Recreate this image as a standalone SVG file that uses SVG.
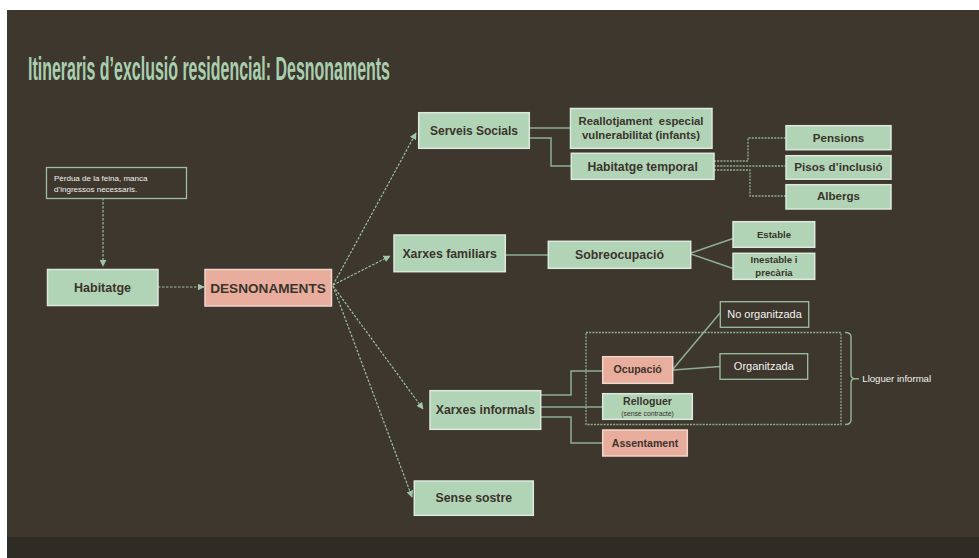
<svg xmlns="http://www.w3.org/2000/svg" width="979" height="558" viewBox="0 0 979 558">
<defs>
<marker id="ah" viewBox="0 0 10 10" refX="9" refY="5" markerWidth="7" markerHeight="7" markerUnits="userSpaceOnUse" orient="auto">
<path d="M0,0 L10,5 L0,10 Z" fill="#a3c6a9"/>
</marker>
<style>
.bg{fill:#3e372e}
.band{fill:#2f2b25}
.title{font-family:"Liberation Sans",Arial,sans-serif;font-size:33px;font-weight:bold;fill:#a9cfae}
.g{fill:#b1d3b6;stroke:#dce9dc;stroke-width:1.5}
.s{fill:#e8ad9c;stroke:#f1d6cc;stroke-width:1.5}
.d{fill:#3e372e;stroke:#9dbf9f;stroke-width:1.3}
.t{font-family:"Liberation Sans",Arial,sans-serif;font-weight:bold;fill:#3b342c;text-anchor:middle}
.w{font-family:"Liberation Sans",Arial,sans-serif;fill:#f2f2ee}
.arr{fill:none;stroke:#9cbfa2;stroke-width:1.2;stroke-dasharray:2.5 1.5;marker-end:url(#ah)}
.ln{fill:none;stroke:#8fae92;stroke-width:1.5}
.dl{fill:none;stroke:#8fae92;stroke-width:1.3;stroke-dasharray:2 1.2}
</style>
</defs>
<rect width="979" height="558" fill="#ffffff"/>
<rect class="bg" x="7" y="10" width="972" height="548"/>
<rect class="band" x="7" y="537" width="972" height="21"/>
<text class="title" x="28" y="80" textLength="362" lengthAdjust="spacingAndGlyphs">Itineraris d’exclusió residencial: Desnonaments</text>

<g id="connectors">
<path class="arr" d="M103,198 V266"/>
<path class="arr" d="M158,287 H204"/>
<path class="arr" d="M333,285 L416,133"/>
<path class="arr" d="M333,285 L390,256"/>
<path class="arr" d="M333,286 L423,409"/>
<path class="arr" d="M333,286 L412,497"/>
<path class="ln" d="M529,128 H570"/>
<path class="ln" d="M529,138 H551 V166 H571"/>
<path class="dl" d="M714,161 H748 V138 H786"/>
<path class="dl" d="M714,166 H786"/>
<path class="dl" d="M714,170 H750 V196 H786"/>
<path class="ln" d="M505,255 H548"/>
<path class="ln" d="M691,253 L733,238.5"/>
<path class="ln" d="M691,254 L733,268.5"/>
<path class="ln" d="M541,395 H571 V371 H603"/>
<path class="ln" d="M541,407 H603"/>
<path class="ln" d="M541,417 H571 V443 H603"/>
<path class="ln" d="M673,369 L720,313"/>
<path class="ln" d="M673,370 L720,366.5"/>
<rect class="dl" x="586" y="332.5" width="255" height="92"/>
<path class="ln" d="M845,332.5 Q851,332.5 851,337 V374.5 Q851,378.7 855,378.7 H859 M855,378.7 Q851,378.7 851,383 V420 Q851,424.5 845,424.5"/>
</g>

<g id="perdua">
<rect class="d" x="46.5" y="167.5" width="140" height="31"/>
<text class="w" x="54" y="181" font-size="8">Pèrdua de la feina, manca</text>
<text class="w" x="54" y="192" font-size="8">d’ingressos necessaris.</text>
</g>
<g id="habitatge">
<rect class="g" x="47.5" y="269.5" width="110.5" height="36"/>
<text class="t" x="102.5" y="291.5" font-size="12.5">Habitatge</text>
</g>
<g id="desnonaments">
<rect class="s" x="205" y="269.5" width="126.5" height="36.5"/>
<text class="t" x="268" y="292.5" font-size="13.6">DESNONAMENTS</text>
</g>
<g id="serveis">
<rect class="g" x="418.7" y="112.7" width="110.6" height="35.6"/>
<text class="t" x="474" y="134.5" font-size="12">Serveis Socials</text>
</g>
<g id="reallotjament">
<rect class="g" x="570.5" y="108.5" width="141.5" height="39.8"/>
<text class="t" x="641" y="124.5" font-size="11.3" xml:space="preserve">Reallotjament  especial</text>
<text class="t" x="641" y="139" font-size="11.3">vulnerabilitat (infants)</text>
</g>
<g id="habtemporal">
<rect class="g" x="571.3" y="153.3" width="142.7" height="26"/>
<text class="t" x="642.6" y="170.5" font-size="12.2">Habitatge temporal</text>
</g>
<g id="pensions">
<rect class="g" x="786" y="125.7" width="105" height="24"/>
<text class="t" x="838.5" y="141.5" font-size="11.6">Pensions</text>
</g>
<g id="pisos">
<rect class="g" x="786" y="155.7" width="105" height="23.5"/>
<text class="t" x="838.5" y="171" font-size="11.6">Pisos d’inclusió</text>
</g>
<g id="albergs">
<rect class="g" x="786" y="184.7" width="105" height="24.3"/>
<text class="t" x="838.5" y="200" font-size="11.6">Albergs</text>
</g>
<g id="xfamiliars">
<rect class="g" x="394" y="235" width="111.3" height="36.7"/>
<text class="t" x="449.6" y="257.7" font-size="12.3">Xarxes familiars</text>
</g>
<g id="sobreocupacio">
<rect class="g" x="548.3" y="241.3" width="142.4" height="27"/>
<text class="t" x="619.5" y="259" font-size="12.3">Sobreocupació</text>
</g>
<g id="estable">
<rect class="g" x="733" y="221.7" width="81.7" height="25.6"/>
<text class="t" x="774" y="237.7" font-size="9.6">Estable</text>
</g>
<g id="inestable">
<rect class="g" x="733" y="253.3" width="81.7" height="26"/>
<text class="t" x="774" y="262.7" font-size="9.6">Inestable i</text>
<text class="t" x="774" y="276" font-size="9.6">precària</text>
</g>
<g id="xinformals">
<rect class="g" x="430" y="390.7" width="110.7" height="38.6"/>
<text class="t" x="485.3" y="414.2" font-size="12.3">Xarxes informals</text>
</g>
<g id="sensesostre">
<rect class="g" x="414.3" y="481" width="119" height="34.3"/>
<text class="t" x="473.8" y="502.2" font-size="12.3">Sense sostre</text>
</g>
<g id="ocupacio">
<rect class="s" x="602.7" y="356.7" width="70" height="26.6"/>
<text class="t" x="637.7" y="373.3" font-size="10.6">Ocupació</text>
</g>
<g id="relloguer">
<rect class="g" x="602.7" y="393.7" width="89.6" height="25.6"/>
<text class="t" x="647.5" y="404.7" font-size="10.6">Relloguer</text>
<text x="647.5" y="415.7" font-size="6.8" font-family="Liberation Sans, Arial, sans-serif" fill="#3b342c" text-anchor="middle">(sense contracte)</text>
</g>
<g id="assentament">
<rect class="s" x="602.7" y="430" width="84.6" height="26"/>
<text class="t" x="645" y="446.7" font-size="10.6">Assentament</text>
</g>
<g id="noorganitzada">
<rect class="d" x="720.3" y="301.7" width="88.4" height="25.6"/>
<text class="w" x="764.5" y="317.5" font-size="11" text-anchor="middle">No organitzada</text>
</g>
<g id="organitzada">
<rect class="d" x="720" y="353.7" width="87.7" height="25.6"/>
<text class="w" x="763.8" y="369.8" font-size="11" text-anchor="middle">Organitzada</text>
</g>
<g id="lloguerinformal">
<text class="w" x="862.3" y="382" font-size="9.6">Lloguer informal</text>
</g>
</svg>
